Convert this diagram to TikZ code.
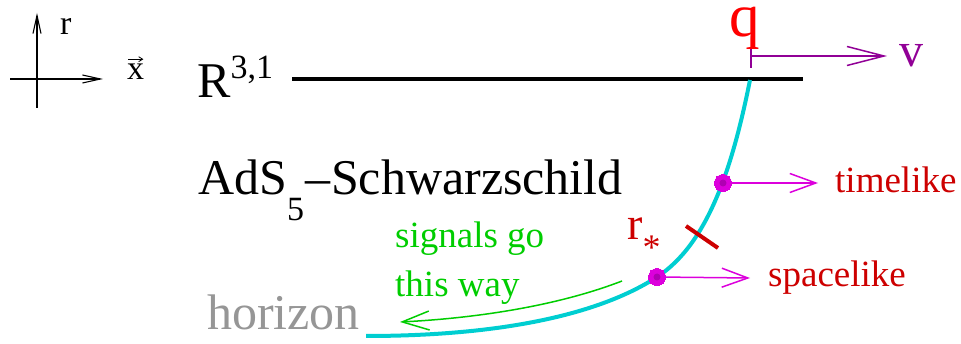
\documentclass[tikz,border=0pt]{standalone}
\usepackage{fontspec}
\setmainfont{Liberation Serif}
\usetikzlibrary{arrows.meta}
\newcommand\fsz[1]{\fontsize{#1}{#1}\selectfont}
\definecolor{cyanc}{RGB}{0,206,209}
\definecolor{greenc}{RGB}{0,205,0}
\definecolor{darkred}{RGB}{205,0,0}
\definecolor{purplec}{RGB}{145,0,150}
\definecolor{magc}{RGB}{220,0,220}
\definecolor{grayc}{RGB}{150,150,150}
\begin{document}
\begin{tikzpicture}[x=1pt,y=-1pt,
  lbl/.style={inner sep=0pt, anchor=base west},
  axis/.style={line width=1.1pt, -{Straight Barb[length=18pt,width=8pt,line width=1.1pt]}},
  thinarrow/.style={line width=1.5pt, -{Straight Barb[length=#1,width=19pt,line width=1.5pt]}},
  dot/.style={circle, fill=magc, draw=magc, line width=0pt, minimum size=17pt, inner sep=0pt, path picture={\fill[purplec!60!magc] (path picture bounding box.center) circle (3.5pt);}}
]
\useasboundingbox (0,0) rectangle (961,344);
% axes
\coordinate (ab) at (37,108);
\coordinate (at) at (37,13);
\coordinate (al) at (10,79);
\coordinate (ar) at (103,79);
\draw[axis] (ab) -- (at);
\draw[axis] (al) -- (ar);
\node[lbl, font=\fsz{34}] (rax) at (60,35) {r};
\node[lbl, font=\fsz{34}] (xax) at (127,80) {x};
\draw[line width=0.8pt, -{Straight Barb[length=4pt,width=5pt,line width=0.8pt]}] ([shift={(1,-5)}]xax.north west) -- ([shift={(-1,-5)}]xax.north east);
% boundary
\node[lbl, font=\fsz{50}] (R) at (197,98) {R\raisebox{19pt}{\fsz{34}3,1}};
\coordinate (bl) at (292,79);
\coordinate (br) at (803,79);
\draw[line width=4pt] (bl) -- (br);
\node[lbl, font=\fsz{50}] (ads) at (198,195) {AdS\raisebox{-26pt}{\fsz{34}5}\kern1pt–\kern1ptSchwarzschild};
% q and v
\node[lbl, font=\fsz{61}, text=red] (q) at (729,37) {q};
\coordinate (qt) at (751,49);
\coordinate (qb) at (751,68);
\coordinate (qa) at (751,56);
\coordinate (vt) at (887,56);
\draw[purplec, line width=1.5pt] (qt) -- (qb);
\draw[purplec, thinarrow=37pt] (qa) -- (vt);
\node[lbl, font=\fsz{48}, text=purplec] (v) at (899,67) {v};
% string
\draw[cyanc, line width=4pt] (750,80) .. controls (732,170) and (707,244.5) .. (657,277) .. controls (597,316) and (496,336) .. (366,336);
% r_* tick
\coordinate (ta) at (686,226);
\coordinate (tb) at (718,248);
\draw[darkred, line width=4pt] (ta) -- (tb);
\node[lbl, font=\fsz{46}, text=darkred] (rs) at (627,240) {r\raisebox{-20pt}{\fsz{36}*}};
% dots and arrows
\node[dot] (d1) at (723,183) {};
\node[dot] (d2) at (657,277) {};
\coordinate (e1) at (818,183);
\coordinate (e2) at (750,278);
\draw[magc, thinarrow=26pt] (d1) -- (e1);
\draw[magc, thinarrow=26pt] (d2) -- (e2);
\node[lbl, font=\fsz{37}, text=darkred] (tl) at (835,193) {timelike};
\node[lbl, font=\fsz{37}, text=darkred] (sl) at (768,287) {spacelike};
% signals
\node[lbl, font=\fsz{37}, text=greenc] (s1) at (395,248) {signals go};
\node[lbl, font=\fsz{37}, text=greenc] (s2) at (395,297) {this way};
\coordinate (gs) at (622,281);
\coordinate (ge) at (400,322);
\draw[greenc, thinarrow=27pt] (gs) .. controls (560,305) and (480,318) .. (ge);
\node[lbl, font=\fsz{50}, text=grayc] (hz) at (207,330) {horizon};
\end{tikzpicture}
\end{document}
